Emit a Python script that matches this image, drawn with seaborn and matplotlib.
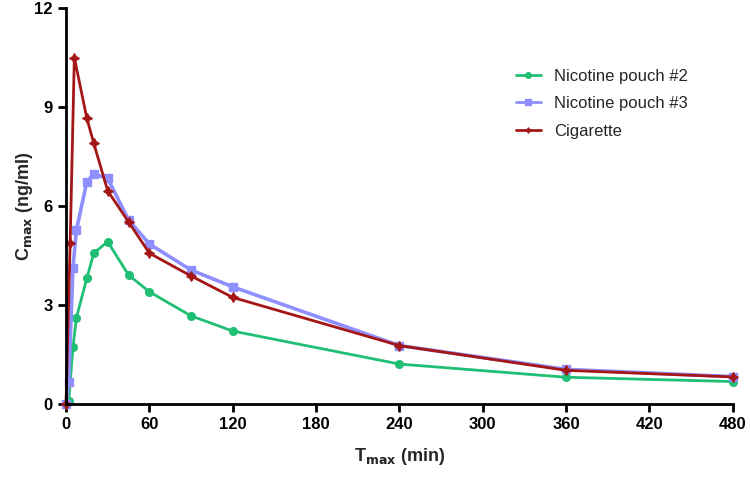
import pandas as pd
import matplotlib
matplotlib.use("Agg")
import matplotlib.pyplot as plt
import seaborn as sns

# sampling times (min) and plasma nicotine (ng/ml)
time_pouch = [0, 2, 5, 7.5, 15, 20, 30, 45, 60, 90, 120, 240, 360, 480]
pouch2 = [0.0, 0.1, 1.72, 2.62, 3.81, 4.57, 4.92, 3.91, 3.40, 2.67, 2.21, 1.21, 0.81, 0.68]
pouch3 = [0.0, 0.68, 4.13, 5.27, 6.74, 6.97, 6.84, 5.58, 4.85, 4.06, 3.55, 1.77, 1.05, 0.83]

time_cig = [0, 3, 6, 15, 20, 30, 45, 60, 90, 120, 240, 360, 480]
cigarette = [0.0, 4.89, 10.5, 8.66, 7.9, 6.46, 5.52, 4.57, 3.88, 3.23, 1.77, 1.02, 0.82]

series_names = ["Nicotine pouch #2", "Nicotine pouch #3", "Cigarette"]
x_ticks = [0, 60, 120, 180, 240, 300, 360, 420, 480]
y_ticks = [0, 3, 6, 9, 12]

# long table for seaborn
df = pd.concat([
    pd.DataFrame({"t": time_pouch, "c": pouch2, "series": series_names[0]}),
    pd.DataFrame({"t": time_pouch, "c": pouch3, "series": series_names[1]}),
    pd.DataFrame({"t": time_cig, "c": cigarette, "series": series_names[2]}),
])

colors = {series_names[0]: "#1fbf74", series_names[1]: "#8f8fff", series_names[2]: "#a51616"}
markers = {series_names[0]: "o", series_names[1]: "s", series_names[2]: (4, 1, 0)}

sns.set_style("ticks")
plt.rcParams["font.family"] = ["Liberation Sans", "DejaVu Sans"]

fig = plt.figure(figsize=(7.5, 4.83), dpi=100)
ax = fig.add_axes([0.088, 0.1636, 0.889, 0.8198])

sns.lineplot(data=df, x="t", y="c", hue="series", style="series",
             palette=colors, markers=markers, dashes=False, estimator=None,
             sort=False, linewidth=2, markersize=5.5, markeredgewidth=1,
             ax=ax, clip_on=False)
# purple line is drawn a bit thicker in the original
ax.lines[1].set_linewidth(2.6)
for ln in ax.lines:
    ln.set_markeredgecolor(ln.get_color())
ax.lines[2].set_markersize(7)

ax.set_xlim(0, 480)
ax.set_ylim(0, 12)
ax.set_xticks(x_ticks)
ax.set_yticks(y_ticks)
for s in ["top", "right"]:
    ax.spines[s].set_visible(False)
for s in ["left", "bottom"]:
    ax.spines[s].set_linewidth(2)
    ax.spines[s].set_color("black")
ax.tick_params(width=2, length=6, labelsize=12, colors="black")
for lab in ax.get_xticklabels() + ax.get_yticklabels():
    lab.set_fontweight("bold")

ax.set_xlabel("T$_{\\mathbf{max}}$ (min)", fontsize=13, fontweight="bold", labelpad=10)
ax.set_ylabel("C$_{\\mathbf{max}}$ (ng/ml)", fontsize=13, fontweight="bold")
ax.yaxis.set_label_coords(-0.047, 0.5)

leg = ax.legend(loc="upper left", bbox_to_anchor=(0.652, 0.885), frameon=False,
                fontsize=12, handlelength=1.5, labelspacing=0.75, title=None)
for h in leg.get_lines():
    h.set_markersize(4)
    h.set_markeredgecolor(h.get_color())

fig.savefig("out.png", dpi=100)
